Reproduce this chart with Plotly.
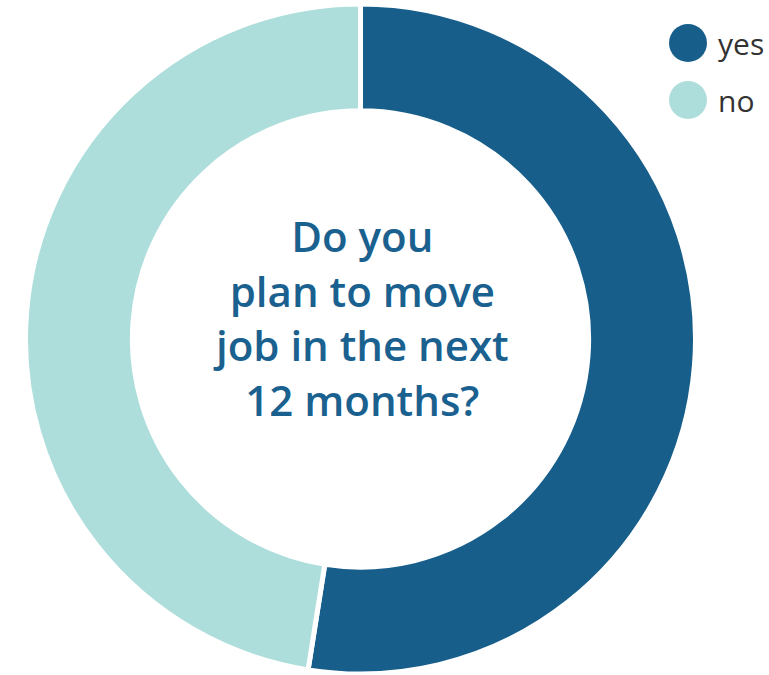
import plotly.graph_objects as go

# Survey answers
labels = ["yes", "no"]
shares = [52.5, 47.5]
colors = ["#175E8B", "#ADDEDB"]
question = "Do you<br>plan to move<br>job in the next<br>12 months?"

W, H = 769, 675
CX, CY, R = 360.5, 339, 335  # ring centre and radius in pixels

fig = go.Figure()

fig.add_trace(go.Pie(
    labels=labels,
    values=shares,
    hole=0.681,
    sort=False,
    direction="clockwise",
    rotation=0,
    textinfo="none",
    hoverinfo="label+percent",
    marker=dict(colors=colors, line=dict(color="white", width=5)),
    domain=dict(x=[(CX - R) / W, (CX + R) / W],
                y=[1 - (CY + R) / H, 1 - (CY - R) / H]),
    showlegend=False,
))

# Centre question
fig.add_annotation(
    x=CX / W, y=1 - 318 / H, xref="paper", yref="paper",
    text=question, showarrow=False, align="center",
    xanchor="center", yanchor="middle",
    font=dict(family="Open Sans", size=42, color="#1A6190", weight=600),
)

# Legend with round swatches
for i, (lab, col) in enumerate(zip(labels, colors)):
    cy = 43 + i * 57
    fig.add_shape(
        type="circle", xref="paper", yref="paper",
        x0=(688 - 19) / W, x1=(688 + 19) / W,
        y0=1 - (cy + 19) / H, y1=1 - (cy - 19) / H,
        fillcolor=col, line=dict(width=0),
    )
    fig.add_annotation(
        x=716 / W, y=1 - cy / H, xref="paper", yref="paper",
        text=lab, showarrow=False, xanchor="left", yanchor="middle",
        font=dict(family="Open Sans", size=30, color="#333333"),
    )

fig.update_layout(
    width=W, height=H,
    margin=dict(l=0, r=0, t=0, b=0),
    paper_bgcolor="white", plot_bgcolor="white",
)

fig.write_html("out.html")
